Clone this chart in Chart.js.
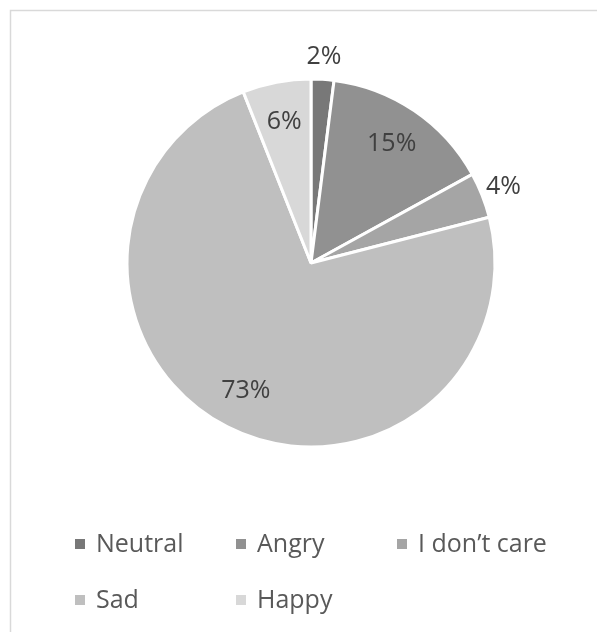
<!DOCTYPE html>
<html>
<head>
<meta charset="utf-8">
<script src="https://cdn.jsdelivr.net/npm/chart.js@4"></script>
<style>
  html, body { margin: 0; padding: 0; background: #ffffff; }
  #wrap { position: relative; width: 597px; height: 632px; }
</style>
</head>
<body>
<div id="wrap"><canvas id="c" width="597" height="632"></canvas></div>
<script>
// ---- data ----
const categories = ["Neutral", "Angry", "I don\u2019t care", "Sad", "Happy"];
const values = [2, 15, 4, 73, 6];
const colors = ["#787878", "#919191", "#a5a5a5", "#bfbfbf", "#d8d8d8"];

const FONT = "'Open Sans', 'Liberation Sans', sans-serif";

const frame = {
  id: 'frame',
  beforeDraw(chart) {
    const ctx = chart.ctx;
    ctx.save();
    ctx.fillStyle = '#ffffff';
    ctx.fillRect(0, 0, chart.width, chart.height);
    ctx.strokeStyle = '#d9d9d9';
    ctx.lineWidth = 1.5;
    ctx.beginPath();
    ctx.moveTo(10.5, chart.height);
    ctx.lineTo(10.5, 10.5);
    ctx.lineTo(chart.width, 10.5);
    ctx.stroke();
    ctx.restore();
  }
};

const pctLabels = {
  id: 'pctLabels',
  afterDatasetsDraw(chart) {
    const ctx = chart.ctx;
    const meta = chart.getDatasetMeta(0);
    const data = chart.data.datasets[0].data;
    const total = data.reduce((a, b) => a + b, 0);
    ctx.save();
    ctx.font = '25px ' + FONT;
    ctx.fillStyle = '#404040';
    ctx.textAlign = 'center';
    ctx.textBaseline = 'middle';
    meta.data.forEach((arc, i) => {
      const p = arc.getProps(['x', 'y', 'startAngle', 'endAngle', 'outerRadius'], true);
      const mid = (p.startAngle + p.endAngle) / 2;
      const pct = Math.round(data[i] / total * 100);
      const txt = pct + '%';
      const cx = Math.cos(mid), sy = Math.sin(mid);
      const r = pct < 5 ? p.outerRadius + 23 : p.outerRadius * 0.78;
      ctx.fillText(txt, p.x + cx * r, p.y + sy * r);
    });
    ctx.restore();
  }
};

const gridLegend = {
  id: 'gridLegend',
  afterDraw(chart) {
    const ctx = chart.ctx;
    const labels = chart.data.labels;
    const bg = chart.data.datasets[0].backgroundColor;
    const x0 = 75, colW = 161, y0 = 545, rowH = 56, cols = 3, box = 10;
    ctx.save();
    ctx.font = '25px ' + FONT;
    ctx.textBaseline = 'middle';
    ctx.textAlign = 'left';
    labels.forEach((lab, i) => {
      const col = i % cols, row = Math.floor(i / cols);
      const x = x0 + col * colW, y = y0 + row * rowH;
      ctx.fillStyle = bg[i];
      ctx.fillRect(x, y - box / 2 - 1, box, box);
      ctx.fillStyle = '#595959';
      ctx.fillText(lab, x + 21, y);
    });
    ctx.restore();
  }
};

new Chart(document.getElementById('c'), {
  type: 'pie',
  data: {
    labels: categories,
    datasets: [{
      data: values,
      backgroundColor: colors,
      borderColor: '#ffffff',
      borderWidth: 3
    }]
  },
  options: {
    responsive: false,
    animation: false,
    radius: 184,
    layout: { padding: { left: 40, right: 15, top: 70, bottom: 176 } },
    plugins: {
      legend: { display: false },
      tooltip: { enabled: false }
    }
  },
  plugins: [frame, pctLabels, gridLegend]
});
</script>
</body>
</html>
